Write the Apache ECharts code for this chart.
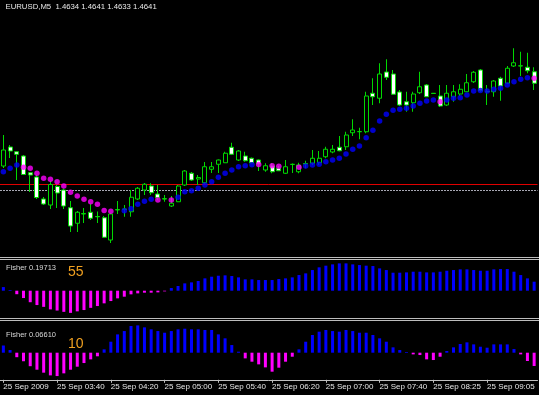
<!DOCTYPE html>
<html>
<head>
<meta charset="utf-8">
<script src="https://cdn.jsdelivr.net/npm/echarts@6/dist/echarts.min.js"></script>
<style>
html,body{margin:0;padding:0;background:#000;}
#c{width:539px;height:395px;}
</style>
</head>
<body>
<div id="c"></div>
<script>
// Bar times (M5), one missing bar between 07:40 and 08:25
const times = ["03:00","03:05","03:10","03:15","03:20","03:25","03:30","03:35","03:40","03:45",
"03:50","03:55","04:00","04:05","04:10","04:15","04:20","04:25","04:30","04:35",
"04:40","04:45","04:50","04:55","05:00","05:05","05:10","05:15","05:20","05:25",
"05:30","05:35","05:40","05:45","05:50","05:55","06:00","06:05","06:10","06:15",
"06:20","06:25","06:30","06:35","06:40","06:45","06:50","06:55","07:00","07:05",
"07:10","07:15","07:20","07:25","07:30","07:35","07:40","07:45","07:50","07:55",
"08:05","08:10","08:15","08:20","08:25","08:30","08:35","08:40","08:45","08:50",
"08:55","09:00","09:05","09:10","09:15","09:20","09:25","09:30","09:35","09:40"];

const tickLabels = ["25 Sep 2009","25 Sep 03:40","25 Sep 04:20","25 Sep 05:00","25 Sep 05:40",
"25 Sep 06:20","25 Sep 07:00","25 Sep 07:40","25 Sep 08:25","25 Sep 09:05"];

const opens = [
1.46032,1.46108,1.46089,1.46072,1.46005,1.45988,1.45900,1.45876,1.45950,1.45936,
1.45865,1.45803,1.45840,1.45847,1.45830,1.45825,1.45736,1.45856,1.45858,1.45849,
1.45900,1.45936,1.45952,1.45920,1.45901,1.45872,1.45889,1.45956,1.46003,1.45980,
1.45965,1.46019,1.46039,1.46045,1.46107,1.46056,1.46072,1.46063,1.46056,1.46016,
1.46032,1.46023,1.46003,1.46038,1.46009,1.46040,1.46043,1.46045,1.46069,1.46088,
1.46107,1.46109,1.46165,1.46169,1.46169,1.46323,1.46303,1.46408,1.46400,1.46328,
1.46289,1.46285,1.46325,1.46356,1.46323,1.46312,1.46276,1.46309,1.46320,1.46329,
1.46369,1.46416,1.46329,1.46329,1.46383,1.46363,1.46432,1.46432,1.46427,1.46409];

const closes = [
1.46096,1.46092,1.46079,1.45998,1.45996,1.45906,1.45880,1.45958,1.45924,1.45872,
1.45792,1.45847,1.45842,1.45823,1.45829,1.45747,1.45840,1.45858,1.45860,1.45907,
1.45943,1.45959,1.45925,1.45905,1.45900,1.45883,1.45952,1.46012,1.45976,1.45986,
1.46029,1.46029,1.46056,1.46083,1.46079,1.46092,1.46053,1.46045,1.46040,1.46033,
1.46009,1.46013,1.46029,1.46039,1.46036,1.46042,1.46063,1.46063,1.46099,1.46099,
1.46093,1.46156,1.46176,1.46170,1.46312,1.46309,1.46400,1.46387,1.46319,1.46276,
1.46276,1.46320,1.46349,1.46309,1.46322,1.46272,1.46323,1.46329,1.46339,1.46365,
1.46407,1.46333,1.46330,1.46372,1.46352,1.46423,1.46445,1.46433,1.46413,1.46363];

const lows = [
1.46024,1.46064,1.45976,1.45996,1.45928,1.45900,1.45876,1.45860,1.45864,1.45860,
1.45768,1.45768,1.45804,1.45816,1.45804,1.45744,1.45724,1.45840,1.45829,1.45829,
1.45896,1.45916,1.45916,1.45896,1.45889,1.45868,1.45888,1.45952,1.45972,1.45956,
1.45960,1.46004,1.46004,1.46044,1.46076,1.46052,1.46049,1.46044,1.46012,1.46009,
1.46003,1.46012,1.46000,1.46004,1.46003,1.46023,1.46036,1.46036,1.46063,1.46083,
1.46091,1.46096,1.46152,1.46139,1.46163,1.46276,1.46283,1.46376,1.46316,1.46272,
1.46249,1.46249,1.46320,1.46308,1.46320,1.46268,1.46272,1.46289,1.46312,1.46328,
1.46364,1.46328,1.46276,1.46309,1.46293,1.46360,1.46428,1.46392,1.46403,1.46336];

const highs = [
1.46156,1.46116,1.46092,1.46076,1.46008,1.45996,1.45908,1.45972,1.45956,1.45942,
1.45892,1.45852,1.45864,1.45882,1.45850,1.45832,1.45844,1.45892,1.45876,1.45936,
1.45948,1.45964,1.45963,1.45956,1.45916,1.45912,1.45956,1.46016,1.46008,1.45996,
1.46048,1.46048,1.46058,1.46089,1.46125,1.46096,1.46089,1.46066,1.46058,1.46043,
1.46043,1.46032,1.46056,1.46042,1.46045,1.46053,1.46096,1.46092,1.46109,1.46116,
1.46152,1.46169,1.46219,1.46185,1.46329,1.46383,1.46443,1.46459,1.46416,1.46336,
1.46329,1.46329,1.46409,1.46360,1.46324,1.46356,1.46356,1.46356,1.46359,1.46400,
1.46412,1.46420,1.46356,1.46376,1.46389,1.46432,1.46503,1.46489,1.46485,1.46427];

// Trend dots (blue = up, magenta = down)
const dotsBlue = [
1.46009,1.46023,1.46036,null,null,null,null,null,null,null,
null,null,null,null,null,null,null,null,1.45853,1.45861,
1.45879,1.45891,1.45899,null,null,null,1.45907,1.45929,1.45933,1.45943,
1.45956,1.45969,1.45987,1.46003,1.46016,1.46029,1.46033,1.46037,null,null,
null,null,null,null,null,1.46032,1.46036,1.46039,1.46049,1.46056,
1.46063,1.46080,1.46099,1.46112,1.46145,1.46175,1.46212,1.46239,1.46255,1.46259,
1.46263,1.46272,1.46283,1.46292,1.46296,null,1.46296,1.46303,1.46305,1.46316,
1.46332,1.46334,1.46332,1.46339,1.46343,1.46356,1.46369,1.46379,1.46385,null];

const dotsMagenta = [
null,null,null,1.46027,1.46023,1.46003,1.45983,1.45979,1.45969,1.45952,
1.45927,1.45912,1.45899,1.45889,1.45879,1.45854,1.45851,null,null,null,
null,null,null,1.45896,null,1.45896,null,null,null,null,
null,null,null,null,null,null,null,null,1.46038,null,
1.46033,1.46031,null,null,1.46027,null,null,null,null,null,
null,null,null,null,null,null,null,null,null,null,
null,null,null,null,null,1.46289,null,null,null,null,
null,null,null,null,null,null,null,null,null,1.46383];

const levelRed = 1.45960;
const levelGray = 1.45935;

// Fisher (55)
const fisher55 = [
0.080,0.015,-0.078,-0.163,-0.256,-0.319,-0.359,-0.415,-0.441,-0.470,
-0.493,-0.459,-0.430,-0.381,-0.341,-0.281,-0.230,-0.170,-0.133,-0.081,
-0.059,-0.044,-0.044,-0.037,-0.015,0.059,0.104,0.163,0.185,0.215,
0.274,0.311,0.333,0.341,0.326,0.296,0.252,0.252,0.237,0.237,
0.237,0.259,0.274,0.296,0.348,0.385,0.459,0.519,0.556,0.585,
0.607,0.607,0.585,0.570,0.556,0.548,0.496,0.459,0.400,0.400,
0.407,0.422,0.422,0.407,0.407,0.422,0.444,0.459,0.474,0.474,
0.459,0.444,0.444,0.474,0.481,0.481,0.422,0.348,0.274,0.200];

// Fisher (10)
const fisher10 = [
0.160,0.059,-0.100,-0.190,-0.300,-0.378,-0.444,-0.504,-0.519,-0.459,
-0.378,-0.311,-0.230,-0.148,-0.080,0.074,0.244,0.407,0.481,0.593,
0.607,0.563,0.519,0.481,0.444,0.481,0.519,0.533,0.519,0.519,
0.504,0.504,0.407,0.319,0.170,0.022,-0.126,-0.200,-0.259,-0.326,
-0.422,-0.333,-0.200,-0.089,0.074,0.244,0.393,0.467,0.504,0.481,
0.467,0.504,0.481,0.444,0.444,0.393,0.319,0.244,0.119,0.059,
0.015,-0.037,-0.052,-0.148,-0.163,-0.089,0.037,0.119,0.193,0.230,
0.185,0.133,0.111,0.185,0.185,0.185,0.081,-0.037,-0.185,-0.296];

const headerText = "EURUSD,M5  1.4634 1.4641 1.4633 1.4641";
const fisherLabel1 = "Fisher 0.19713";
const fisherLabel2 = "Fisher 0.06610";
const period1 = "55";
const period2 = "10";

const FONT = "'Liberation Sans', Arial, sans-serif";
const candles = opens.map((o, i) => [o, closes[i], lows[i], highs[i]]);
const histColor = p => (p.value >= 0 ? '#0000ff' : '#ff00ff');

const chart = echarts.init(document.getElementById('c'), null, {renderer: 'canvas'});
const GL = -1, GW = 538.5;
chart.setOption({
  backgroundColor: '#000000',
  animation: false,
  grid: [
    {left: GL, width: GW, top: 0, height: 256},
    {left: GL, width: GW, top: 260.1, height: 57.6},
    {left: GL, width: GW, top: 322.1, height: 56.7}
  ],
  xAxis: [
    {type: 'category', gridIndex: 0, data: times, show: false, axisLine: {onZero: false}},
    {type: 'category', gridIndex: 1, data: times, show: false, axisLine: {onZero: false}},
    {type: 'category', gridIndex: 2, data: times, offset: 1,
      axisLine: {onZero: false, lineStyle: {color: '#c0c0c0', width: 1}},
      axisTick: {show: true, interval: 7, alignWithLabel: true, length: 3, lineStyle: {color: '#c0c0c0'}},
      axisLabel: {interval: 7, align: 'left', color: '#e6e6e6', fontSize: 8, fontFamily: FONT, margin: 3,
        formatter: (v, i) => (tickLabels[i / 8] !== undefined ? tickLabels[i / 8] : '')},
      splitLine: {show: false}}
  ],
  yAxis: [
    {type: 'value', gridIndex: 0, min: 1.45672, max: 1.46696, show: false, splitLine: {show: false}},
    {type: 'value', gridIndex: 1, min: -0.6, max: 0.68, show: false, splitLine: {show: false}},
    {type: 'value', gridIndex: 2, min: -0.58, max: 0.68, show: false, splitLine: {show: false}}
  ],
  series: [
    {
      type: 'candlestick', xAxisIndex: 0, yAxisIndex: 0, data: candles, barWidth: 4.5,
      itemStyle: {color: '#000000', color0: '#ffffff', borderColor: '#00d800', borderColor0: '#00d800',
        borderColorDoji: '#00d800', borderWidth: 1},
      z: 3
    },
    {type: 'scatter', xAxisIndex: 0, yAxisIndex: 0, data: dotsBlue, symbol: 'circle', symbolSize: 5.5,
      itemStyle: {color: '#0000ff'}, z: 5,
      markLine: {
        silent: true, symbol: ['none', 'none'], label: {show: false}, animation: false, precision: 6,
        data: [
          {yAxis: levelRed, lineStyle: {color: '#e00000', width: 1, type: 'solid'}},
          {yAxis: levelGray, lineStyle: {color: '#a8a8b4', width: 1, type: [2, 1]}}
        ],
        z: 2
      }},
    {type: 'scatter', xAxisIndex: 0, yAxisIndex: 0, data: dotsMagenta, symbol: 'circle', symbolSize: 5.5,
      itemStyle: {color: '#ff00ff'}, z: 5},
    {type: 'bar', xAxisIndex: 1, yAxisIndex: 1, data: fisher55, barWidth: 3, itemStyle: {color: histColor}},
    {type: 'bar', xAxisIndex: 2, yAxisIndex: 2, data: fisher10, barWidth: 3, itemStyle: {color: histColor}}
  ],
  graphic: [
    {type: 'rect', shape: {x: 0, y: 257, width: 539, height: 1}, style: {fill: '#bdbdbd'}, silent: true},
    {type: 'rect', shape: {x: 0, y: 259, width: 539, height: 1}, style: {fill: '#bdbdbd'}, silent: true},
    {type: 'rect', shape: {x: 0, y: 318, width: 539, height: 1}, style: {fill: '#bdbdbd'}, silent: true},
    {type: 'rect', shape: {x: 0, y: 320, width: 539, height: 1}, style: {fill: '#bdbdbd'}, silent: true},
    {type: 'text', x: 5.5, y: 6.5, style: {text: headerText, fill: '#e8e8e8', fontSize: 7.75, fontFamily: FONT, verticalAlign: 'middle', align: 'left'}, z: 10},
    {type: 'text', x: 6, y: 268.3, style: {text: fisherLabel1, fill: '#d8d8d8', fontSize: 7.5, fontFamily: FONT, verticalAlign: 'middle', align: 'left'}, z: 10},
    {type: 'text', x: 68, y: 272, style: {text: period1, fill: '#f0a020', fontSize: 14, fontFamily: FONT, verticalAlign: 'middle', align: 'left'}, z: 10},
    {type: 'text', x: 6, y: 335, style: {text: fisherLabel2, fill: '#d8d8d8', fontSize: 7.5, fontFamily: FONT, verticalAlign: 'middle', align: 'left'}, z: 10},
    {type: 'text', x: 68, y: 344.5, style: {text: period2, fill: '#f0a020', fontSize: 14, fontFamily: FONT, verticalAlign: 'middle', align: 'left'}, z: 10}
  ]
});
</script>
</body>
</html>
